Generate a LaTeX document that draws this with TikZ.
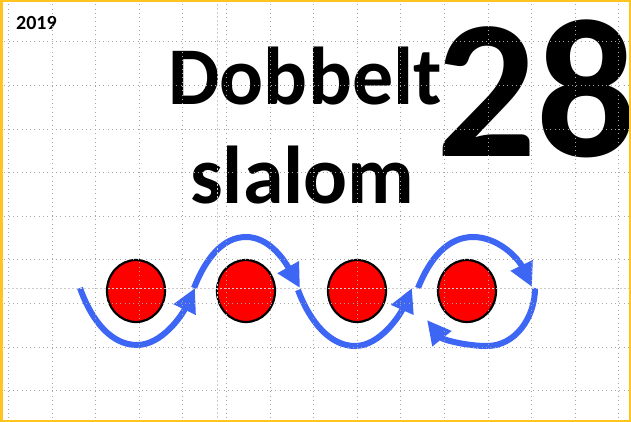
\documentclass[tikz,border=0pt]{standalone}
\usepackage{fontspec}
\setmainfont{Carlito}
\usetikzlibrary{arrows.meta,shapes.geometric}
\definecolor{arrowblue}{RGB}{62,102,245}
\definecolor{frameyellow}{RGB}{255,196,30}
\begin{document}
\begin{tikzpicture}[x=1pt,y=-1pt,
  gridline/.style={black!35, line width=0.8pt, dash pattern=on 0.9pt off 3.4pt},
  guide/.style={black!20, line width=0.8pt, dash pattern=on 2pt off 2pt},
  cone/.style={ellipse, draw=black, fill=red, line width=2.2pt, minimum width=58pt, minimum height=62pt, inner sep=0pt},
  route/.style={draw=arrowblue, line width=6pt, -{Triangle[length=24pt,width=23pt]}},
  title/.style={font=\fontsize{82}{82}\selectfont\bfseries, anchor=base west, inner sep=0pt},
  bignum/.style={font=\fontsize{198}{198}\selectfont\bfseries, anchor=base west, inner sep=0pt},
  yeartext/.style={font=\fontsize{20}{20}\selectfont\bfseries, anchor=base west, inner sep=0pt}
]
\useasboundingbox (0,0) rectangle (631,422);
\fill[white] (0,0) rectangle (631,422);

% texts
\node[yeartext] (year) at (16,30) {2019};
\node[title] (t1) at (168,105) {Dobbelt};
\node[title] (t2) at (190,203) {slalom};
\node[bignum] (num) at (436,157) {28};

% cones
\node[cone] (c1) at (136,291) {};
\node[cone] (c2) at (246,291) {};
\node[cone] (c3) at (357,291) {};
\node[cone] (c4) at (467,291) {};

% route points
\coordinate (s1) at (80,288);
\coordinate (b1) at (137,345);
\coordinate (e1) at (195,288);
\coordinate (s2) at (194,288);
\coordinate (p2) at (246,237);
\coordinate (e2) at (300,288);
\coordinate (s3) at (298,290);
\coordinate (b3) at (355,346);
\coordinate (e3) at (412,288);
\coordinate (s4) at (418,288);
\coordinate (p4) at (473,237);
\coordinate (e4) at (532,287);
\coordinate (s5) at (535,288);
\coordinate (b5) at (487,346);
\coordinate (e5) at (427,320);

\draw[route] (s1) .. controls (92,322) and (112,345) .. (b1) .. controls (162,345) and (182,315) .. (e1);
\draw[route] (s2) .. controls (205,260) and (222,237) .. (p2) .. controls (268,237) and (283,258) .. (e2);
\draw[route] (s3) .. controls (310,322) and (330,346) .. (b3) .. controls (380,346) and (400,315) .. (e3);
\draw[route] (s4) .. controls (430,258) and (448,237) .. (p4) .. controls (498,237) and (518,258) .. (e4);
\draw[route] (s5) .. controls (535,318) and (515,346) .. (b5) .. controls (467,346) and (443,340) .. (e5);

% grid on top
\foreach \k in {0,...,14} {
  \draw[gridline] ({8.3+43.6*\k},0) -- ({8.3+43.6*\k},422);
}
\foreach \k in {0,...,8} {
  \draw[gridline] (0,{41.8+43.6*\k}) -- (631,{41.8+43.6*\k});
}
\draw[guide] (217,0) -- (217,422);
\draw[guide] (0,288) -- (631,288);

% frame
\draw[frameyellow, line width=2.5pt] (1.25,1.25) rectangle (629.75,420.75);
\end{tikzpicture}
\end{document}
